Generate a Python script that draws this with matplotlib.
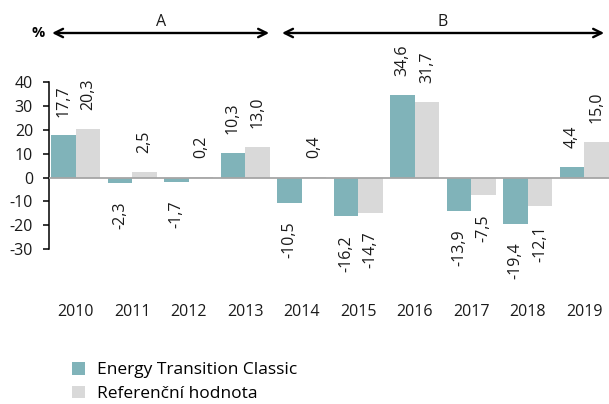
import matplotlib.pyplot as plt
import numpy as np

plt.rcParams['font.family'] = ['Open Sans', 'DejaVu Sans']
plt.rcParams['axes.unicode_minus'] = False

# data
years = ['2010', '2011', '2012', '2013', '2014', '2015', '2016', '2017', '2018', '2019']
fund = [17.7, -2.3, -1.7, 10.3, -10.5, -16.2, 34.6, -13.9, -19.4, 4.4]
bench = [20.3, 2.5, 0.2, 13.0, 0.4, -14.7, 31.7, -7.5, -12.1, 15.0]
series_names = ['Energy Transition Classic', 'Referenční hodnota']
yticks = [40, 30, 20, 10, 0, -10, -20, -30]

teal = '#80b3b9'
grey = '#d9d9d9'
txt = '#1a1a1a'
fs = 11.5

fig = plt.figure(figsize=(6.09, 4.04), dpi=100)
ax = fig.add_axes([0.0800, 0.2658, 0.9277, 0.5305])

x = np.arange(len(years))
w = 0.435
b1 = ax.bar(x - w / 2, fund, w, color=teal, label=series_names[0], zorder=2)
b2 = ax.bar(x + w / 2, bench, w, color=grey, label=series_names[1], zorder=2)

# value labels, rotated
for bars, vals in ((b1, fund), (b2, bench)):
    for r, v in zip(bars, vals):
        cx = r.get_x() + r.get_width() / 2
        off = 13.5 if v >= 0 else -13.5
        ax.annotate(f'{v:.1f}'.replace('.', ','), (cx, v), xytext=(0, off),
                    textcoords='offset points', rotation=90, ha='center',
                    va='bottom' if v >= 0 else 'top', fontsize=fs, color=txt,
                    annotation_clip=False)

ax.axhline(0, color='#a6a6a6', lw=1.3, zorder=3)

ax.set_xlim(-0.48, 9.52)
ax.set_ylim(-50, 40)
ax.set_yticks(yticks)
ax.set_xticks(x)
ax.set_xticklabels(years)
ax.tick_params(axis='x', length=0, pad=5, labelsize=fs, labelcolor=txt)
ax.tick_params(axis='y', length=4.3, width=1.1, pad=7, labelsize=fs, labelcolor=txt)
for s in ['top', 'right', 'bottom']:
    ax.spines[s].set_visible(False)
ax.spines['left'].set_bounds(-30, 40)
ax.spines['left'].set_linewidth(1.1)

# period arrows on top
tr = ax.get_xaxis_transform()
arrow_y = 1.23
style = '<->,head_length=0.6,head_width=0.3'
ax.annotate('', xy=(-0.47, arrow_y), xytext=(3.47, arrow_y), xycoords=tr,
            arrowprops=dict(arrowstyle=style, lw=1.7, color='black'),
            annotation_clip=False)
ax.annotate('', xy=(3.6, arrow_y), xytext=(9.4, arrow_y), xycoords=tr,
            arrowprops=dict(arrowstyle=style, lw=1.7, color='black'),
            annotation_clip=False)
ax.text(1.5, 1.28, 'A', transform=tr, ha='center', va='center', fontsize=fs, color=txt)
ax.text(6.5, 1.28, 'B', transform=tr, ha='center', va='center', fontsize=fs, color=txt)
fig.text(38 / 609, 1 - 33 / 404, '%', ha='center', va='center', fontsize=10.5, fontweight='bold')

fig.legend(handles=[b1, b2], loc='upper left', bbox_to_anchor=(72 / 609, 1 - 362 / 404),
           frameon=False, fontsize=12.5, handlelength=0.75, handleheight=0.75,
           handletextpad=0.7, labelspacing=0.42, borderaxespad=0, borderpad=0)

fig.savefig('out.png', dpi=100)
